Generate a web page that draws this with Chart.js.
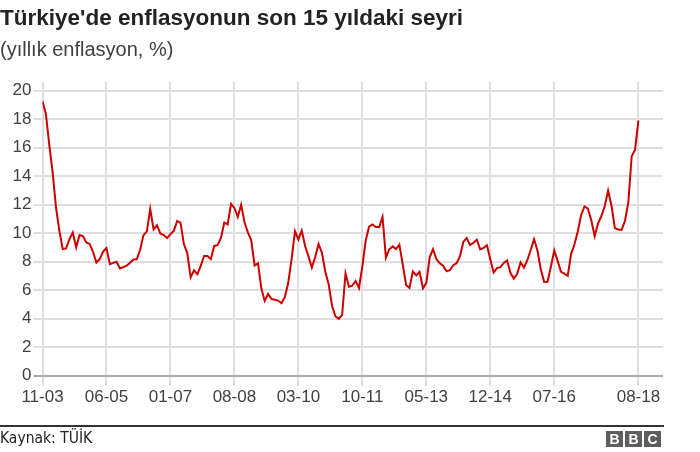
<!DOCTYPE html>
<html lang="tr">
<head>
<meta charset="utf-8">
<script src="https://cdn.jsdelivr.net/npm/chart.js@4"></script>
<style>
  html, body { margin: 0; padding: 0; background: #fff; }
  body { width: 700px; height: 452px; position: relative; overflow: hidden; font-family: "Liberation Sans", Arial, sans-serif; }
  #chart-box { position: absolute; left: 0; top: 0; width: 700px; height: 452px; }
  .title { position: absolute; left: 0; top: 5px; font-size: 22.5px; font-weight: bold; color: #222; white-space: nowrap; }
  .subtitle { position: absolute; left: 0; top: 38px; font-size: 20px; color: #404040; white-space: nowrap; }
  .rule { position: absolute; left: 0; top: 425px; width: 664px; height: 2px; background: #333; }
  .source { position: absolute; left: 0; top: 429px; font-size: 15.5px; color: #222; font-family: "DejaVu Sans Condensed", "DejaVu Sans", sans-serif; }
  .bbc { position: absolute; left: 606px; top: 431px; display: flex; gap: 2px; }
  .bbc span { display: block; width: 17px; height: 16px; background: #5d5d5d; color: #fff; font: bold 14px/16px "Liberation Sans", Arial, sans-serif; text-align: center; }
</style>
</head>
<body>
<div id="chart-box"><canvas id="inflationChart" width="700" height="452"></canvas></div>
<div class="title">Türkiye'de enflasyonun son 15 yıldaki seyri</div>
<div class="subtitle">(yıllık enflasyon, %)</div>
<div class="rule"></div>
<div class="source">Kaynak: TÜİK</div>
<div class="bbc"><span>B</span><span>B</span><span>C</span></div>

<script>
/**
 * DATA
 * Annual CPI inflation, monthly, from 11-2003 to 08-2018 (one value per month).
 */
const startMonth = { year: 2003, month: 11 };

const inflation = [
    19.25, 18.36,                                                            // 2003
    16.22, 14.28, 11.83, 10.18, 8.88, 8.93, 9.57, 10.04, 9.00, 9.86, 9.79, 9.35,   // 2004
    9.24, 8.69, 7.94, 8.18, 8.70, 8.95, 7.82, 7.91, 7.99, 7.52, 7.61, 7.72,        // 2005
    7.93, 8.15, 8.16, 8.83, 9.86, 10.12, 11.69, 10.26, 10.55, 9.98, 9.86, 9.65,    // 2006
    9.93, 10.16, 10.86, 10.72, 9.23, 8.60, 6.90, 7.39, 7.12, 7.70, 8.40, 8.39,     // 2007
    8.17, 9.10, 9.15, 9.66, 10.74, 10.61, 12.06, 11.77, 11.13, 11.99, 10.76, 10.06,// 2008
    9.50, 7.73, 7.89, 6.13, 5.24, 5.73, 5.39, 5.33, 5.27, 5.08, 5.53, 6.53,        // 2009
    8.19, 10.13, 9.56, 10.19, 9.10, 8.37, 7.58, 8.33, 9.24, 8.62, 7.29, 6.40,      // 2010
    4.90, 4.16, 3.99, 4.26, 7.17, 6.24, 6.31, 6.65, 6.15, 7.66, 9.48, 10.45,       // 2011
    10.61, 10.43, 10.43, 11.14, 8.28, 8.87, 9.07, 8.88, 9.19, 7.80, 6.37, 6.16,    // 2012
    7.31, 7.03, 7.29, 6.13, 6.51, 8.30, 8.88, 8.17, 7.88, 7.71, 7.32, 7.40,        // 2013
    7.75, 7.89, 8.39, 9.38, 9.66, 9.16, 9.32, 9.54, 8.86, 8.96, 9.15, 8.17,        // 2014
    7.24, 7.55, 7.61, 7.91, 8.09, 7.20, 6.81, 7.14, 7.95, 7.58, 8.10, 8.81,        // 2015
    9.58, 8.78, 7.46, 6.57, 6.58, 7.64, 8.79, 8.05, 7.28, 7.16, 7.00, 8.53,        // 2016
    9.22, 10.13, 11.29, 11.87, 11.72, 10.90, 9.79, 10.68, 11.20, 11.90, 12.98, 11.92, // 2017
    10.35, 10.26, 10.23, 10.85, 12.15, 15.39, 15.85, 17.90                          // 2018
];

// month index (0 = 11-03) of each x tick, and its label
const xTickIndex = [0, 19, 38, 57, 76, 95, 114, 133, 152, 177];
const xTickLabels = ['11-03', '06-05', '01-07', '08-08', '03-10', '10-11', '05-13', '12-14', '07-16', '08-18'];
const yTicks = [0, 2, 4, 6, 8, 10, 12, 14, 16, 18, 20];

const points = inflation.map((v, i) => ({ x: i, y: v }));
const tickColor = '#404040';
const gridColor = '#dedede';
const tickFont = { family: '"Liberation Sans", Arial, sans-serif', size: 17 };

new Chart(document.getElementById('inflationChart'), {
    type: 'line',
    data: {
        datasets: [{
            label: 'Yıllık enflasyon',
            data: points,
            borderColor: '#cc0000',
            borderWidth: 2,
            pointRadius: 0,
            tension: 0,
            fill: false
        }]
    },
    options: {
        responsive: false,
        animation: false,
        layout: { padding: { top: 82, right: 37, left: 0, bottom: 0 } },
        plugins: {
            legend: { display: false },
            tooltip: { enabled: false },
            title: { display: false }
        },
        scales: {
            x: {
                type: 'linear',
                min: 0,
                max: 184.3,
                afterBuildTicks: s => { s.ticks = xTickIndex.map(v => ({ value: v })); },
                afterFit: s => { s.height = 76.3; },
                border: { display: false },
                grid: { color: gridColor, lineWidth: 2, tickLength: 10 },
                ticks: {
                    color: tickColor,
                    font: tickFont,
                    padding: 1,
                    maxRotation: 0,
                    autoSkip: false,
                    callback: v => xTickLabels[xTickIndex.indexOf(v)] ?? ''
                }
            },
            y: {
                min: 0,
                max: 20.6,
                afterBuildTicks: s => { s.ticks = yTicks.map(v => ({ value: v })); },
                afterFit: s => { s.width = 42.5; },
                border: { display: false },
                grid: {
                    color: ctx => ctx.tick && ctx.tick.value === 0 ? '#aaaaaa' : gridColor,
                    lineWidth: 2,
                    tickLength: 9
                },
                ticks: {
                    color: tickColor,
                    font: tickFont,
                    padding: 2
                }
            }
        }
    }
});
</script>
</body>
</html>
